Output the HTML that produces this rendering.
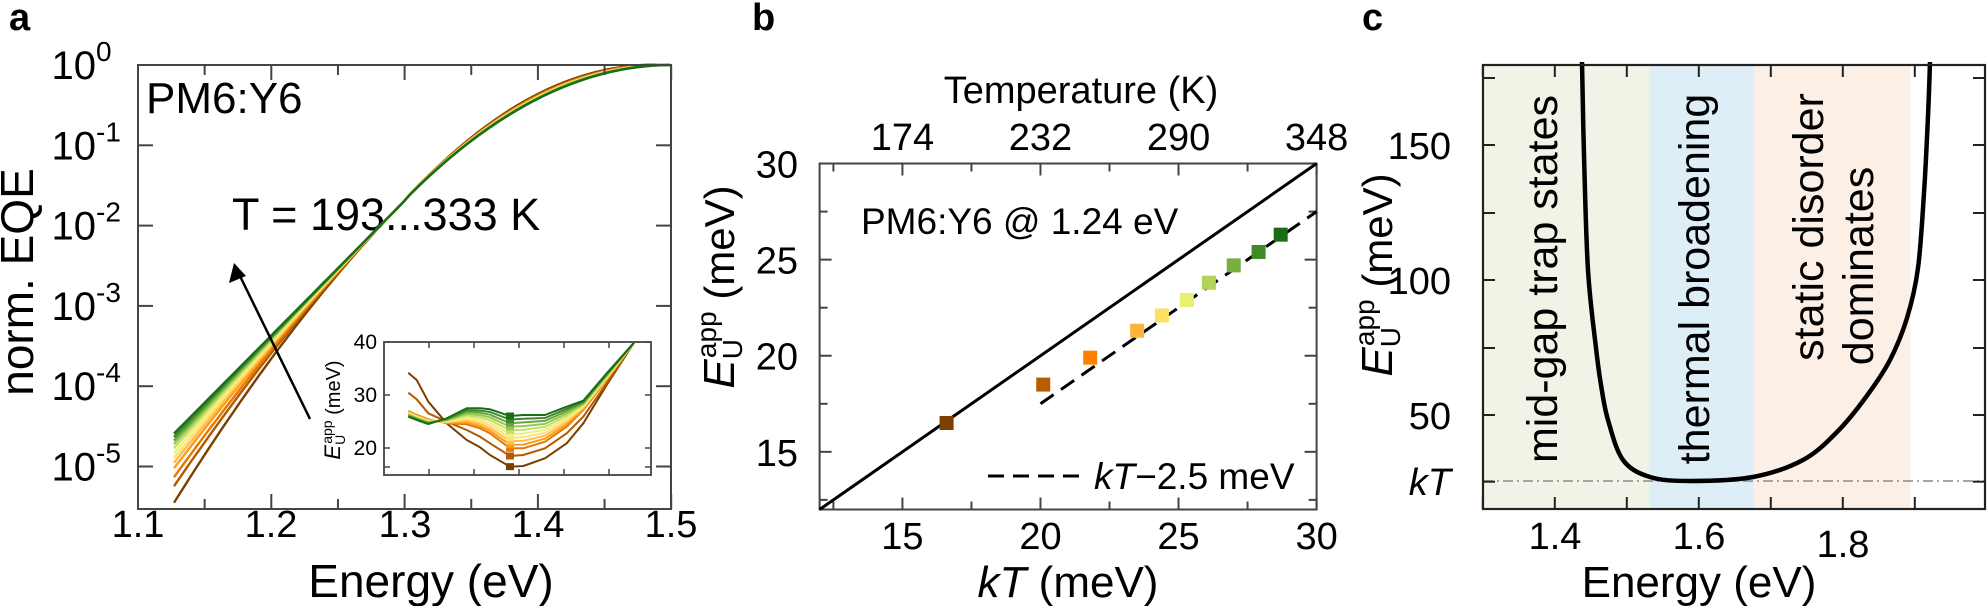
<!DOCTYPE html>
<html><head><meta charset="utf-8">
<style>
html,body{margin:0;padding:0;background:#fff;}
svg{display:block;font-family:"Liberation Sans",Arial,sans-serif;}
</style></head>
<body>
<svg id="s" width="1987" height="606" viewBox="0 0 1987 606" xmlns="http://www.w3.org/2000/svg">
<text x="9" y="30" font-size="38" font-weight="bold">a</text>
<text x="752" y="30" font-size="38" font-weight="bold">b</text>
<text x="1362" y="30" font-size="38" font-weight="bold">c</text>

<g id="pa">
<text x="146" y="113" font-size="44">PM6:Y6</text>
<text x="232" y="230" font-size="45">T = 193...333 K</text>
</g>
<g id="pacurves"></g>
<g id="paframe" stroke="#444" stroke-width="2" fill="none"></g>
<g font-size="40" text-anchor="end" id="paylab"></g>
<g font-size="38" text-anchor="middle">
<text x="138" y="537">1.1</text><text x="271" y="537">1.2</text><text x="405" y="537">1.3</text><text x="538" y="537">1.4</text><text x="671" y="537">1.5</text>
</g>
<text x="431" y="597" font-size="46" text-anchor="middle">Energy (eV)</text>
<text transform="translate(33,282) rotate(-90)" font-size="46" text-anchor="middle">norm. EQE</text>
<line x1="310" y1="419" x2="238" y2="272" stroke="#000" stroke-width="2.5"/>
<polygon points="234,263 229,283 246,276" fill="#000"/>
<g id="inset"></g>
<g id="pb"></g>
<g id="pc"></g>
</svg>
<script>
const NS="http://www.w3.org/2000/svg";
function el(parent,tag,attrs,text){const e=document.createElementNS(NS,tag);for(const k in attrs)e.setAttribute(k,attrs[k]);if(text!==undefined)e.textContent=text;parent.appendChild(e);return e;}
function smooth(pts){let d="M"+pts[0][0].toFixed(1)+","+pts[0][1].toFixed(1);for(let i=0;i<pts.length-1;i++){const p0=pts[i-1]||pts[i],p1=pts[i],p2=pts[i+1],p3=pts[i+2]||p2;const c1=[p1[0]+(p2[0]-p0[0])/6,p1[1]+(p2[1]-p0[1])/6],c2=[p2[0]-(p3[0]-p1[0])/6,p2[1]-(p3[1]-p1[1])/6];d+="C"+c1[0].toFixed(1)+","+c1[1].toFixed(1)+" "+c2[0].toFixed(1)+","+c2[1].toFixed(1)+" "+p2[0].toFixed(1)+","+p2[1].toFixed(1);}return d;}
const cols=["#7b3f00","#b35a00","#e67800","#ff9a14","#ffbf47","#ffe07a","#eef27a","#c6df67","#98c653","#68a63f","#3d8a2a","#1a6e15"];
const N=cols.length;

// ---- Panel A curves ----
const A=document.getElementById("pacurves");
const ax=E=>138+(E-1.1)*1333.3, ay=L=>65-L*80.3;
const fr=[0,0.24,0.37,0.50,0.58,0.65,0.72,0.79,0.85,0.90,0.95,1];
for(let i=0;i<N;i++){
  const f=fr[i];
  const c=-28.6*(1-f)+0.2*f;
  let pts=[];
  for(let E=1.127;E<=1.5001;E+=0.004){
    let L;
    if(E>=1.3){const g=-42*(E-1.5)*(E-1.5);L=g+0.06*(1-f)*Math.sin(Math.PI*(E-1.3)/0.2);}
    else{const d=E-1.3;L=-1.69+16.8*d+c*d*d;}
    pts.push(ax(E).toFixed(1)+","+ay(L).toFixed(1));
  }
  el(A,"polyline",{points:pts.join(" "),stroke:cols[i],"stroke-width":2.4,fill:"none"});
}
const F=document.getElementById("paframe");
el(F,"rect",{x:138,y:65,width:533,height:444});
for(let k=0;k<=5;k++){const y=65+k*80.3;el(F,"line",{x1:138,y1:y,x2:153,y2:y});el(F,"line",{x1:671,y1:y,x2:656,y2:y});}
for(let k=0;k<=8;k++){const x=138+k*66.65;const l=(k%2==0)?15:10;el(F,"line",{x1:x,y1:509,x2:x,y2:509-l});el(F,"line",{x1:x,y1:65,x2:x,y2:65+l});}
const YL=document.getElementById("paylab");
const exps=["0","-1","-2","-3","-4","-5"];
for(let k=0;k<=5;k++){const y=65+k*80.3+14;el(YL,"text",{x:96,y:y},"10");el(YL,"text",{x:96,y:y-18,"font-size":28,"text-anchor":"start"},exps[k]);}

// ---- Inset ----
const I=document.getElementById("inset");
el(I,"rect",{x:384,y:342,width:267,height:133,fill:"#fff",stroke:"#444","stroke-width":1.8});
[429,474,519,564,609].forEach(x=>{el(I,"line",{x1:x,y1:475,x2:x,y2:469,stroke:"#444","stroke-width":1.5});el(I,"line",{x1:x,y1:342,x2:x,y2:348,stroke:"#444","stroke-width":1.5});});
[342,395,448,467].forEach(y=>{el(I,"line",{x1:384,y1:y,x2:390,y2:y,stroke:"#444","stroke-width":1.5});el(I,"line",{x1:651,y1:y,x2:645,y2:y,stroke:"#444","stroke-width":1.5});});
[["40",349],["30",402],["20",455]].forEach(a=>el(I,"text",{x:377,y:a[1],"font-size":21,"text-anchor":"end"},a[0]));
const yl=el(I,"text",{transform:"translate(340,410) rotate(-90)","font-size":20,"text-anchor":"middle"});
yl.innerHTML='<tspan font-style="italic" font-size="22">E</tspan><tspan font-size="14" dy="5">U</tspan><tspan font-size="14" dx="-9" dy="-13">app</tspan><tspan dy="8"> (meV)</tspan>';
const xs=[85,110,145,200,260,300,330,390,430,495,560,610,680,762];
const c0=[128,150,215,280,330,352,375,410,408,385,340,280,165,38];
const c1=[188,208,250,275,300,320,340,378,375,355,310,260,160,38];
const c2=[243,255,268,280,283,295,310,355,355,335,290,240,150,38];
const cg=[260,270,282,265,235,235,238,258,255,255,230,212,130,38];
function inPts(arr){return xs.map((x,j)=>[380+x/3,330+arr[j]/3]);}
const insetCurves=[];
for(let i=0;i<N;i++){let arr;if(i==0)arr=c0;else if(i==1)arr=c1;else{const f=(i-2)/(N-3);arr=c2.map((v,j)=>v+(cg[j]-v)*f);}insetCurves.push(arr);}
insetCurves.forEach((arr,i)=>{const p=inPts(arr);let d="M"+p.map(q=>q[0].toFixed(1)+","+q[1].toFixed(1)).join("L");el(I,"path",{d:d,stroke:cols[i],"stroke-width":2,fill:"none","stroke-linejoin":"round"});});
insetCurves.forEach((arr,i)=>{const y=330+arr[7]/3;el(I,"rect",{x:506,y:y-3.5,width:8,height:7,fill:cols[i]});});

// ---- Panel B ----
const B=document.getElementById("pb");
const bx=v=>819.6+(v-12)*27.61, by=v=>509.5-(v-12)*19.22;
el(B,"rect",{x:819.6,y:163.5,width:497,height:346,fill:"none",stroke:"#444","stroke-width":2});
for(let v=12.5;v<=30;v+=2.5){const x=bx(v);const l=(v%5==0)?12:8;el(B,"line",{x1:x,y1:509.5,x2:x,y2:509.5-l,stroke:"#444","stroke-width":2});el(B,"line",{x1:x,y1:163.5,x2:x,y2:163.5+l,stroke:"#444","stroke-width":2});}
for(let v=12.5;v<=30;v+=2.5){const y=by(v);const l=(v%5==0)?12:8;el(B,"line",{x1:819.6,y1:y,x2:819.6+l,y2:y,stroke:"#444","stroke-width":2});el(B,"line",{x1:1316.6,y1:y,x2:1316.6-l,y2:y,stroke:"#444","stroke-width":2});}
[15,20,25,30].forEach(v=>{el(B,"text",{x:bx(v),y:549,"font-size":38,"text-anchor":"middle"},String(v));el(B,"text",{x:798,y:by(v)+14,"font-size":38,"text-anchor":"end"},String(v));});
[["174",15],["232",20],["290",25],["348",30]].forEach(a=>el(B,"text",{x:bx(a[1]),y:150,"font-size":38,"text-anchor":"middle"},a[0]));
el(B,"text",{x:1081,y:103,"font-size":38,"text-anchor":"middle"},"Temperature (K)");
const bxl=el(B,"text",{x:1068,y:597,"font-size":44,"text-anchor":"middle"});
bxl.innerHTML='<tspan font-style="italic">kT</tspan> (meV)';
const byl=el(B,"text",{transform:"translate(734,287) rotate(-90)","font-size":42,"text-anchor":"middle"});
byl.innerHTML='<tspan font-style="italic" font-size="44">E</tspan><tspan font-size="28" dy="8">U</tspan><tspan font-size="28" dx="-19" dy="-26">app</tspan><tspan dy="18"> (meV)</tspan>';
el(B,"text",{x:861,y:234,"font-size":37},"PM6:Y6 @ 1.24 eV");
el(B,"line",{x1:bx(12),y1:by(12),x2:bx(30),y2:by(30),stroke:"#000","stroke-width":3});
el(B,"line",{x1:bx(20),y1:by(17.5),x2:bx(30),y2:by(27.5),stroke:"#000","stroke-width":3,"stroke-dasharray":"16,9"});
el(B,"line",{x1:988,y1:476,x2:1082,y2:476,stroke:"#000","stroke-width":3,"stroke-dasharray":"16,9"});
const lg=el(B,"text",{x:1094,y:489,"font-size":37});
lg.innerHTML='<tspan font-style="italic">kT</tspan>−2.5 meV';
const pts=[[16.6,16.5],[20.1,18.5],[21.8,19.9],[23.5,21.3],[24.4,22.1],[25.3,22.9],[26.1,23.8],[27.0,24.7],[27.9,25.4],[28.7,26.3]];
const pc=["#7b3f00","#b85c00","#ff8000","#ffb33a","#ffe066","#e8f06e","#b2d35a","#78ad42","#3d8a26","#1a6b14"];
pts.forEach((p,i)=>el(B,"rect",{x:bx(p[0])-7,y:by(p[1])-7,width:14,height:14,fill:pc[i]}));

// ---- Panel C ----
const C=document.getElementById("pc");
el(C,"rect",{x:1483,y:65,width:166.5,height:444,fill:"#f0f4e6"});
el(C,"rect",{x:1649.5,y:65,width:104,height:444,fill:"#ddeef7"});
el(C,"rect",{x:1753.5,y:65,width:157,height:444,fill:"#fcefe6"});
el(C,"line",{x1:1483,y1:481,x2:1985,y2:481,stroke:"#999","stroke-width":1.8,"stroke-dasharray":"10,4,2,4"});
[["mid-gap trap states",1542,279],["thermal broadening",1694,279],["static disorder",1808,227],["dominates",1858,266]].forEach(a=>el(C,"text",{transform:`translate(${a[1]+15},${a[2]}) rotate(-90)`,"font-size":43,"text-anchor":"middle"},a[0]));
const cpts=[[1582,62],[1584,155],[1588,270],[1596,348],[1601,385],[1608,420],[1623,460],[1650,477],[1690,481],[1753,477],[1803,460],[1837,432],[1866,397],[1890,360],[1907,318],[1918,268],[1924,193],[1928,116],[1930,62]];
el(C,"path",{d:smooth(cpts),stroke:"#000","stroke-width":4.5,fill:"none"});
el(C,"rect",{x:1483,y:65,width:502,height:444,fill:"none",stroke:"#222","stroke-width":2.2});
[78,145,213,280,348,415,481.7].forEach(y=>{el(C,"line",{x1:1483,y1:y,x2:1495,y2:y,stroke:"#222","stroke-width":2});el(C,"line",{x1:1985,y1:y,x2:1973,y2:y,stroke:"#222","stroke-width":2});});
for(let k=0;k<7;k++){const x=1482.8+k*72;el(C,"line",{x1:x,y1:509,x2:x,y2:497,stroke:"#222","stroke-width":2});el(C,"line",{x1:x,y1:65,x2:x,y2:77,stroke:"#222","stroke-width":2});}
[["1.4",1555,549],["1.6",1699,549],["1.8",1843,557]].forEach(a=>el(C,"text",{x:a[1],y:a[2],"font-size":38,"text-anchor":"middle"},a[0]));
[["150",145],["100",280],["50",415]].forEach(a=>el(C,"text",{x:1451,y:a[1]+14,"font-size":38,"text-anchor":"end"},a[0]));
el(C,"text",{x:1451,y:495,"font-size":38,"text-anchor":"end","font-style":"italic"},"kT");
el(C,"text",{x:1699,y:597,"font-size":44,"text-anchor":"middle"},"Energy (eV)");
const cyl=el(C,"text",{transform:"translate(1392,275) rotate(-90)","font-size":42,"text-anchor":"middle"});
cyl.innerHTML='<tspan font-style="italic" font-size="44">E</tspan><tspan font-size="28" dy="8">U</tspan><tspan font-size="28" dx="-19" dy="-26">app</tspan><tspan dy="18"> (meV)</tspan>';
</script>
</body></html>
